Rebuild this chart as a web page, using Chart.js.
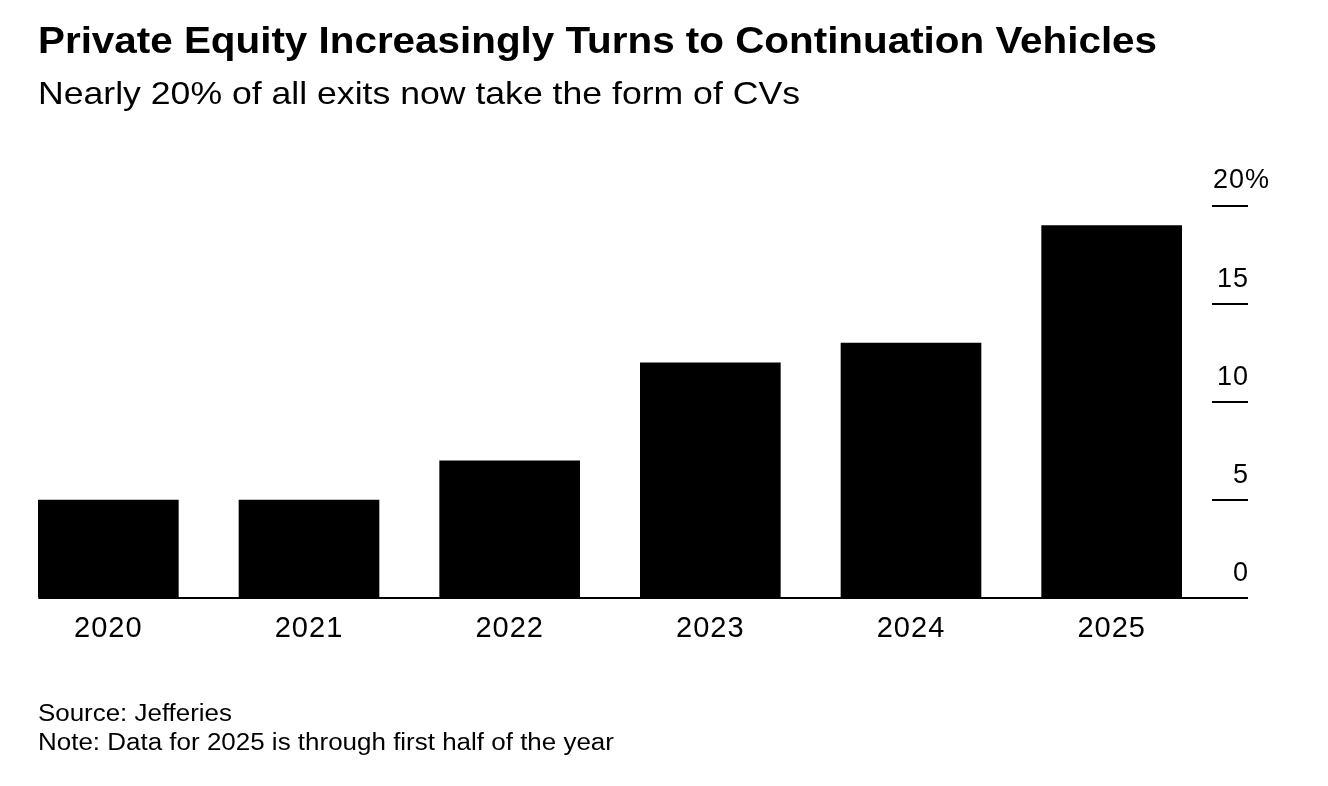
<!DOCTYPE html>
<html>
<head>
<meta charset="utf-8">
<script src="https://cdn.jsdelivr.net/npm/chart.js@4.4.1/dist/chart.umd.min.js"></script>
<style>
  html, body { margin: 0; padding: 0; background: #fff; }
  body { width: 1328px; height: 786px; position: relative; overflow: hidden; font-family: "Liberation Sans", Arial, Helvetica, sans-serif; color: #000; }
  #wrap { position: absolute; left: 0; top: 0; width: 1328px; height: 786px; }
  .txt { position: absolute; left: 38px; white-space: nowrap; line-height: 1; z-index: 2; transform-origin: 0 0; }
  #title { top: 23px; font-size: 36px; font-weight: bold; }
  #subtitle { top: 76.5px; font-size: 32px; }
  #source { top: 702px; font-size: 23px; }
  #note { top: 730.5px; font-size: 23px; }
</style>
</head>
<body>
<div id="wrap"><canvas id="c" width="1328" height="786"></canvas></div>
<div class="txt" id="title" data-w="1119">Private Equity Increasingly Turns to Continuation Vehicles</div>
<div class="txt" id="subtitle" data-w="762">Nearly 20% of all exits now take the form of CVs</div>
<div class="txt" id="source" data-w="194">Source: Jefferies</div>
<div class="txt" id="note" data-w="576">Note: Data for 2025 is through first half of the year</div>
<script>
const categories = ["2020", "2021", "2022", "2023", "2024", "2025"];
const cvShare = [5, 5, 7, 12, 13, 19];
const yTicks = [0, 5, 10, 15, 20];
const yUnit = "%";

const FONT = '"Liberation Sans", Arial, Helvetica, sans-serif';

// widen the header/footer text slightly to match the reference typeface width
document.querySelectorAll('.txt').forEach(el => {
  const w = el.getBoundingClientRect().width;
  const k = parseFloat(el.dataset.w) / w;
  el.style.transform = 'scaleX(' + k.toFixed(4) + ')';
});

const spacing = {
  id: 'spacing',
  beforeDraw(chart) { chart.ctx.letterSpacing = '1px'; },
  afterDatasetsDraw(chart) { chart.ctx.letterSpacing = '0px'; }
};

const customAxis = {
  id: 'customAxis',
  afterDraw(chart) {
    const ctx = chart.ctx;
    const y = chart.scales.y;
    const meta = chart.getDatasetMeta(0);
    const first = meta.data[0];
    const left = first.x - first.width / 2;
    const right = y.right;
    const y0 = y.getPixelForValue(0);
    ctx.save();
    ctx.strokeStyle = '#000';
    ctx.lineWidth = 2;
    ctx.beginPath();
    ctx.moveTo(left, y0);
    ctx.lineTo(right - 1, y0);
    ctx.stroke();
    ctx.fillStyle = '#000';
    ctx.font = '27px ' + FONT;
    ctx.letterSpacing = '1px';
    ctx.textBaseline = 'alphabetic';
    const maxV = Math.max(...yTicks);
    yTicks.forEach(v => {
      const py = y.getPixelForValue(v);
      if (v === maxV) {
        ctx.textAlign = 'left';
        ctx.fillText(String(v) + yUnit, y.left + 1, py - 18);
      } else {
        ctx.textAlign = 'right';
        ctx.fillText(String(v), right + 1, py - 17);
      }
    });
    ctx.letterSpacing = '0px';
    ctx.restore();
  }
};

new Chart(document.getElementById('c'), {
  type: 'bar',
  data: {
    labels: categories,
    datasets: [{
      data: cvShare,
      backgroundColor: '#000',
      borderWidth: 0,
      barThickness: 140
    }]
  },
  options: {
    responsive: false,
    animation: false,
    devicePixelRatio: 1,
    layout: { padding: { left: 8, right: 80, top: 206, bottom: 138 } },
    plugins: { legend: { display: false }, tooltip: { enabled: false }, title: { display: false } },
    scales: {
      x: {
        type: 'category',
        offset: true,
        grid: { display: false },
        border: { display: false },
        ticks: { color: '#000', font: { family: FONT, size: 29 }, padding: 6, maxRotation: 0 },
        afterFit(s) { s.height = 50; }
      },
      y: {
        position: 'right',
        min: 0, max: 20,
        afterBuildTicks(s) { s.ticks = yTicks.map(v => ({ value: v })); },
        grid: { drawOnChartArea: false, drawTicks: true, tickLength: 36, color: '#000', lineWidth: 2 },
        border: { display: false },
        ticks: { display: false },
        afterFit(s) { s.width = 36; }
      }
    }
  },
  plugins: [spacing, customAxis]
});
</script>
</body>
</html>
